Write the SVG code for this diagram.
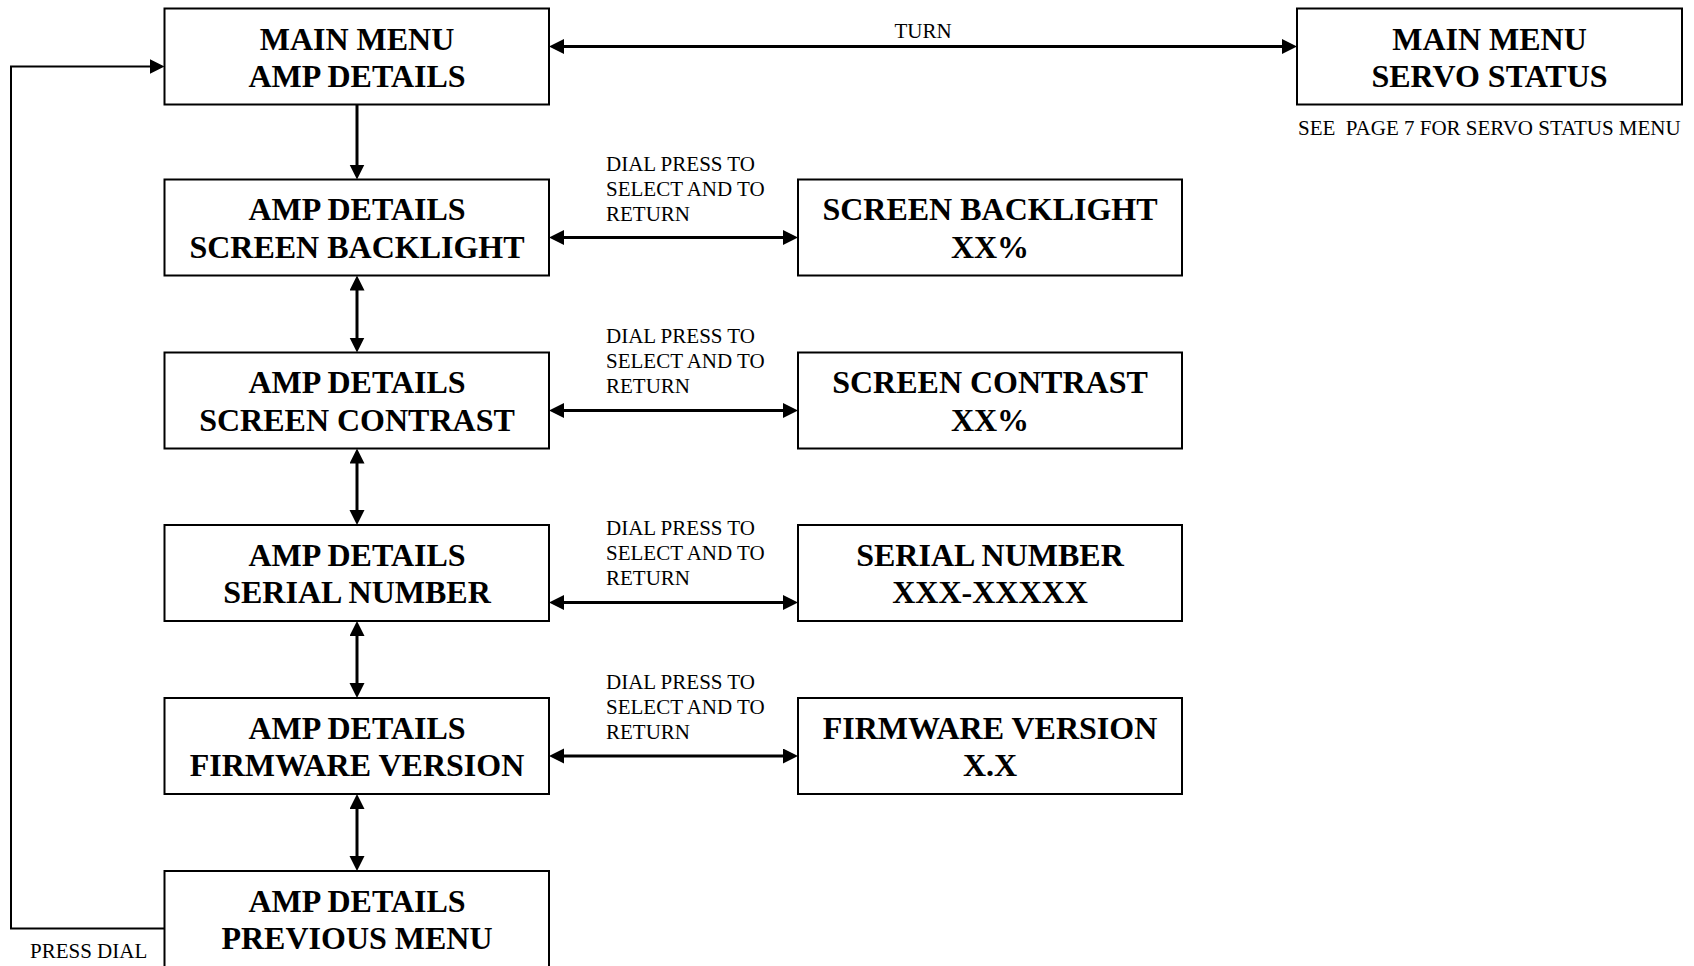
<svg xmlns="http://www.w3.org/2000/svg" width="1694" height="966" viewBox="0 0 1694 966">
<style>
.box{fill:#fff;stroke:#000;stroke-width:2}
.t{font-family:"Liberation Serif","Times New Roman",serif;font-weight:bold;font-size:32px;text-anchor:middle;fill:#000}
.l{font-family:"Liberation Serif","Times New Roman",serif;font-size:21px;fill:#000}
.c{fill:none;stroke:#000;stroke-width:3}
</style>
<defs>
<marker id="ah" markerUnits="userSpaceOnUse" markerWidth="16" markerHeight="16" viewBox="0 0 16 16" refX="5" refY="7.5" orient="auto-start-reverse">
<path d="M0,0 L15,7.5 L0,15 z" fill="#000"/>
</marker>
</defs>
<rect width="1694" height="966" fill="#fff"/>
<g id="connectors">
<line class="c" x1="559" y1="46.5" x2="1287" y2="46.5" marker-start="url(#ah)" marker-end="url(#ah)"/>
<line class="c" x1="357" y1="104.5" x2="357" y2="169.5" marker-end="url(#ah)"/>
<line class="c" x1="357" y1="285.5" x2="357" y2="342.5" marker-start="url(#ah)" marker-end="url(#ah)"/>
<line class="c" x1="357" y1="458.5" x2="357" y2="515" marker-start="url(#ah)" marker-end="url(#ah)"/>
<line class="c" x1="357" y1="631" x2="357" y2="688" marker-start="url(#ah)" marker-end="url(#ah)"/>
<line class="c" x1="357" y1="804" x2="357" y2="861" marker-start="url(#ah)" marker-end="url(#ah)"/>
<line class="c" x1="559" y1="237.5" x2="788" y2="237.5" marker-start="url(#ah)" marker-end="url(#ah)"/>
<line class="c" x1="559" y1="410.5" x2="788" y2="410.5" marker-start="url(#ah)" marker-end="url(#ah)"/>
<line class="c" x1="559" y1="602.5" x2="788" y2="602.5" marker-start="url(#ah)" marker-end="url(#ah)"/>
<line class="c" x1="559" y1="756" x2="788" y2="756" marker-start="url(#ah)" marker-end="url(#ah)"/>
<polyline class="c" style="stroke-width:2" points="164.5,928.5 11,928.5 11,66.5 154.5,66.5" marker-end="url(#ah)"/>
<text class="l" x="923" y="38" text-anchor="middle">TURN</text>
<text class="l" x="606" y="171">DIAL PRESS TO</text>
<text class="l" x="606" y="196">SELECT AND TO</text>
<text class="l" x="606" y="221">RETURN</text>
<text class="l" x="606" y="343">DIAL PRESS TO</text>
<text class="l" x="606" y="368">SELECT AND TO</text>
<text class="l" x="606" y="393">RETURN</text>
<text class="l" x="606" y="535">DIAL PRESS TO</text>
<text class="l" x="606" y="560">SELECT AND TO</text>
<text class="l" x="606" y="585">RETURN</text>
<text class="l" x="606" y="689">DIAL PRESS TO</text>
<text class="l" x="606" y="714">SELECT AND TO</text>
<text class="l" x="606" y="739">RETURN</text>
<text class="l" x="30" y="958">PRESS DIAL</text>
<text class="l" x="1298" y="135" xml:space="preserve">SEE  PAGE 7 FOR SERVO STATUS MENU</text>
</g>
<g id="main-amp">
<rect class="box" x="164.5" y="8.5" width="384.5" height="96"/>
<text class="t" x="357" y="50">MAIN MENU</text>
<text class="t" x="357" y="87">AMP DETAILS</text>
</g>
<g id="main-servo">
<rect class="box" x="1297" y="8.5" width="385" height="96"/>
<text class="t" x="1489.5" y="50">MAIN MENU</text>
<text class="t" x="1489.5" y="87">SERVO STATUS</text>
</g>
<g id="amp-backlight">
<rect class="box" x="164.5" y="179.5" width="384.5" height="96"/>
<text class="t" x="357" y="220">AMP DETAILS</text>
<text class="t" x="357" y="258">SCREEN BACKLIGHT</text>
</g>
<g id="backlight">
<rect class="box" x="798" y="179.5" width="384" height="96"/>
<text class="t" x="990" y="220">SCREEN BACKLIGHT</text>
<text class="t" x="990" y="258">XX%</text>
</g>
<g id="amp-contrast">
<rect class="box" x="164.5" y="352.5" width="384.5" height="96"/>
<text class="t" x="357" y="393">AMP DETAILS</text>
<text class="t" x="357" y="431">SCREEN CONTRAST</text>
</g>
<g id="contrast">
<rect class="box" x="798" y="352.5" width="384" height="96"/>
<text class="t" x="990" y="393">SCREEN CONTRAST</text>
<text class="t" x="990" y="431">XX%</text>
</g>
<g id="amp-serial">
<rect class="box" x="164.5" y="525" width="384.5" height="96"/>
<text class="t" x="357" y="566">AMP DETAILS</text>
<text class="t" x="357" y="603">SERIAL NUMBER</text>
</g>
<g id="serial">
<rect class="box" x="798" y="525" width="384" height="96"/>
<text class="t" x="990" y="566">SERIAL NUMBER</text>
<text class="t" x="990" y="603">XXX-XXXXX</text>
</g>
<g id="amp-firmware">
<rect class="box" x="164.5" y="698" width="384.5" height="96"/>
<text class="t" x="357" y="739">AMP DETAILS</text>
<text class="t" x="357" y="776">FIRMWARE VERSION</text>
</g>
<g id="firmware">
<rect class="box" x="798" y="698" width="384" height="96"/>
<text class="t" x="990" y="739">FIRMWARE VERSION</text>
<text class="t" x="990" y="776">X.X</text>
</g>
<g id="amp-previous">
<rect class="box" x="164.5" y="871" width="384.5" height="100"/>
<text class="t" x="357" y="912">AMP DETAILS</text>
<text class="t" x="357" y="949">PREVIOUS MENU</text>
</g>
</svg>
